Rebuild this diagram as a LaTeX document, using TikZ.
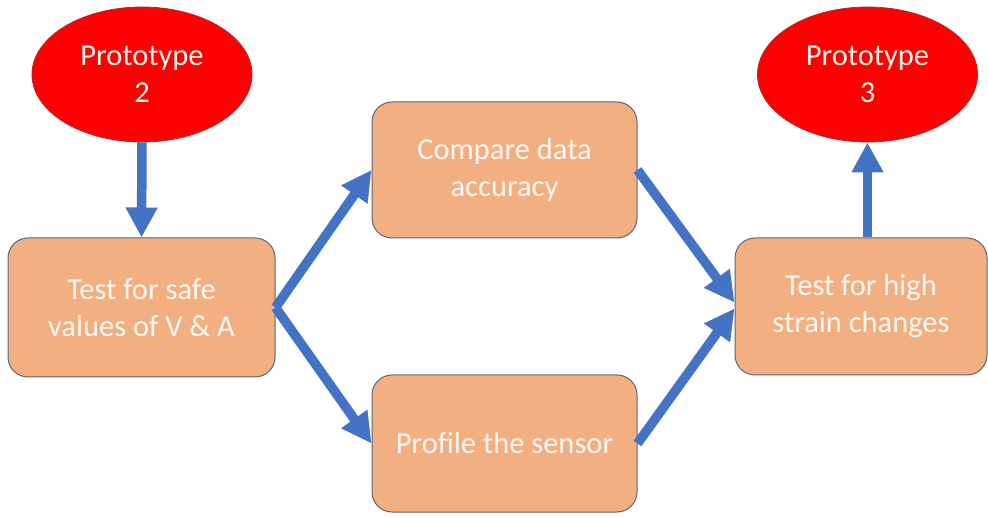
\documentclass[tikz,border=0pt]{standalone}
\usepackage{fontspec}
\setmainfont{Carlito}
\usetikzlibrary{shapes.geometric,arrows.meta}
\definecolor{boxfill}{RGB}{242,176,130}
\definecolor{boxline}{RGB}{95,100,115}
\definecolor{arrowblue}{RGB}{68,114,196}
\definecolor{protored}{RGB}{255,0,0}
\definecolor{protoline}{RGB}{175,40,50}
\definecolor{txt}{RGB}{255,247,240}
\begin{document}
\begin{tikzpicture}[x=1pt,y=-1pt,
  stepbox/.style={draw=boxline, line width=1pt, fill=boxfill, rounded corners=20pt,
    minimum width=265pt, minimum height=137pt, text=txt, inner sep=0pt,
    font=\fontsize{30.5}{37}\selectfont, align=center},
  proto/.style={ellipse, draw=protoline, line width=0.8pt, fill=protored,
    minimum width=220pt, minimum height=135pt, inner sep=0pt, text=txt,
    font=\fontsize{30.5}{37}\selectfont, align=center},
  flow/.style={draw=arrowblue, line width=9.5pt,
    -{Triangle[length=30pt,width=30pt]}}]
\fill[white] (0,0) rectangle (988,518);
\useasboundingbox (0,0) rectangle (988,518);

\node[proto] (p2) at (142,74.5) {Prototype\\2};
\node[proto] (p3) at (867.5,74.5) {Prototype\\3};

\node[stepbox, minimum width=267pt, minimum height=139pt] (safe) at (141.5,307.5) {Test for safe\\values of V \& A};
\node[stepbox, minimum height=136pt] (cmp) at (504.5,170) {Compare data\\accuracy};
\node[stepbox] (prof) at (504.5,443.5) {Profile the sensor};
\node[stepbox, minimum width=252pt] (high) at (861,306.5) {Test for high\\strain changes};

\draw[flow] (p2.south) -- (safe.north);
\draw[flow] (safe.east) -- (cmp.west);
\draw[flow] (safe.east) -- (prof.west);
\draw[flow] (cmp.east) -- ([yshift=4pt]high.west);
\draw[flow] (prof.east) -- ([yshift=-2pt]high.west);
\draw[flow] ([xshift=6.5pt]high.north) -- (p3.south);
\end{tikzpicture}
\end{document}
